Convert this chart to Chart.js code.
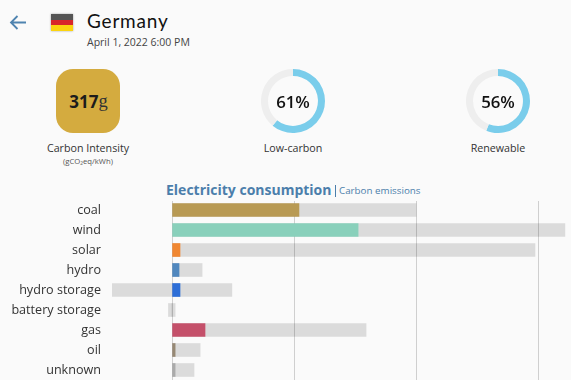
<!DOCTYPE html>
<html><head><meta charset="utf-8">
<script src="https://cdn.jsdelivr.net/npm/chart.js@4"></script>
<style>
html,body{margin:0;padding:0;width:571px;height:380px;overflow:hidden;background:#fafafa;font-family:"Open Sans",sans-serif;color:#222}
.abs{position:absolute;white-space:nowrap}
.c{transform:translateX(-50%);text-align:center}
#flag{left:51px;top:14px;width:22px;height:17px;background:linear-gradient(#555 0 33%,#d8262a 33% 66%,#fbd40f 66% 100%);box-shadow:0 0 2px rgba(0,0,0,.35)}
#box{left:56px;top:69px;width:64px;height:64px;border-radius:17px;background:#d4ab3f;display:flex;align-items:center;justify-content:center;font-size:17px;font-weight:700;color:#1c1c1c;padding-left:1px;box-sizing:border-box}
#box span{font-family:"Liberation Serif",serif;font-weight:400;font-size:18.5px;color:#333}
.pct{font-size:16.8px;font-weight:600;color:#111;transform:translate(-50%,-50%)}
#mask{left:0;top:199px;width:571px;height:2px;background:#fafafa;z-index:2}
canvas{display:block}
</style></head><body>
<svg class="abs" style="left:9px;top:14px" width="18" height="17" viewBox="0 0 18 17" fill="none" stroke="#4f84b0" stroke-width="1.8"><path d="M17 8.5H2M8.5 2 2 8.5 8.5 15"/></svg>
<div class="abs" id="flag"></div>
<div class="abs" style="left:87px;top:9px;font:400 19px Lato,sans-serif;letter-spacing:.8px;color:#111">Germany</div>
<div class="abs" style="left:87px;top:35px;font-size:10.5px;color:#444">April 1, 2022 6:00 PM</div>
<div class="abs" id="box">317<span>g</span></div>
<div class="abs c" style="left:88px;top:141px;font-size:10.7px;color:#333">Carbon Intensity</div>
<div class="abs c" style="left:88px;top:156px;font-size:7.7px;color:#555">(gCO₂eq/kWh)</div>
<div class="abs" style="left:261px;top:69px;width:64px;height:64px"><canvas id="d1" width="64" height="64"></canvas></div>
<div class="abs" style="left:466px;top:69px;width:64px;height:64px"><canvas id="d2" width="64" height="64"></canvas></div>
<div class="abs pct" style="left:293px;top:101px">61%</div>
<div class="abs pct" style="left:498px;top:101px">56%</div>
<div class="abs c" style="left:293px;top:141px;font-size:10.7px;color:#333">Low-carbon</div>
<div class="abs c" style="left:498px;top:141px;font-size:10.7px;color:#333">Renewable</div>
<div class="abs" style="left:166px;top:180px;font-size:14px;font-weight:700;color:#4b7eab">Electricity consumption</div>
<div class="abs" style="left:335px;top:185px;font-size:9.8px;color:#4b7eab;border-left:1px solid #4b7eab;line-height:12px;padding-left:3px">Carbon emissions</div>
<div class="abs" style="left:0;top:200px;width:571px;height:181px"><canvas id="bars" width="571" height="181"></canvas></div>
<div class="abs" id="mask"></div>
<script>
const categories=["coal","wind","solar","hydro","hydro storage","battery storage","gas","oil","unknown"];
const production=[10.4,15.25,0.65,0.57,0.65,0,2.7,0.25,0.25];
const capacityMin=[0,0,0,0,-4.9,-0.3,0,0,0];
const capacityMax=[20,32.2,29.75,2.46,4.9,0.25,15.9,2.3,1.8];
const barColors=["#b89a54","#89d0bb","#f08732","#5087be","#2d6ed7","#aaaaaa","#c4506a","#968874","#aaaaaa"];
const xTicks=[0,10,20,30];
const lowCarbon=61, renewable=56;

new Chart(document.getElementById("bars"),{
  type:"bar",
  data:{labels:categories,datasets:[
    {label:"capacity",data:capacityMin.map((m,i)=>[m,capacityMax[i]]),backgroundColor:"rgba(0,0,0,0.12)",barThickness:13,grouped:false,order:2},
    {label:"production",data:production,backgroundColor:barColors,barThickness:13,grouped:false,order:1}
  ]},
  options:{indexAxis:"y",responsive:false,animation:false,
    layout:{padding:0},
    plugins:{legend:{display:false},tooltip:{enabled:false}},
    scales:{
      x:{min:-5.5,max:32.7,afterBuildTicks(s){s.ticks=xTicks.map(v=>({value:v}));},
        afterFit(s){s.height=1;s.paddingLeft=0;s.paddingRight=0;},
        border:{display:false},
        grid:{color:"#cfcfcf",lineWidth:1,tickLength:1},
        ticks:{display:false}},
      y:{afterFit(s){s.width=105;s.paddingTop=0;s.paddingBottom=0;},
        grid:{display:false,drawTicks:false},border:{display:false},
        ticks:{color:"#333",padding:4,font:{family:"'Open Sans',sans-serif",size:12.6},autoSkip:false}}
    }}
});
function ring(id,v){
  new Chart(document.getElementById(id),{
    type:"doughnut",
    data:{labels:["share","rest"],datasets:[{data:[v,100-v],backgroundColor:["#7acdeb","#eeeeee"],borderWidth:0}]},
    options:{responsive:false,animation:false,cutout:"78%",plugins:{legend:{display:false},tooltip:{enabled:false}}}
  });
}
ring("d1",lowCarbon);ring("d2",renewable);
</script>
</body></html>
